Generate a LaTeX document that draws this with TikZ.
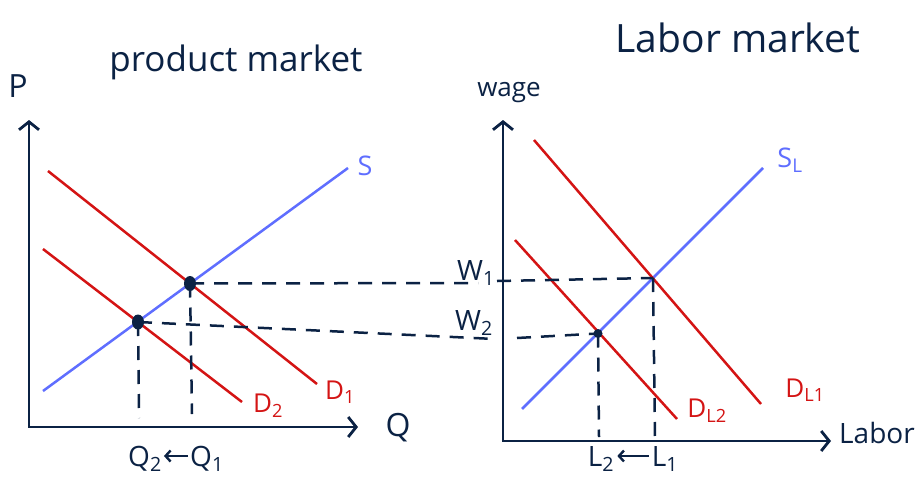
\documentclass[tikz,border=0pt]{standalone}
\usepackage{fontspec}
\setmainfont{Open Sans}
\usetikzlibrary{arrows.meta,shapes.geometric}
\definecolor{ink}{HTML}{0B2244}
\definecolor{dred}{HTML}{D41414}
\definecolor{sblue}{HTML}{5F6EFF}
\begin{document}
\begin{tikzpicture}[x=1pt,y=-1pt,
  axis/.style={draw=ink,line width=2.8pt,line join=miter,
    {Straight Barb[length=8pt,width=20pt]}-{Straight Barb[length=8pt,width=20pt]}},
  demand/.style={draw=dred,line width=2.5pt},
  supply/.style={draw=sblue,line width=2.5pt},
  guide/.style={draw=ink,line width=2.5pt,dash pattern=on 14pt off 10pt},
  eqdot/.style={ellipse,fill=ink,inner sep=0pt,minimum width=12pt,minimum height=15pt},
  smalldot/.style={circle,fill=ink,inner sep=0pt,minimum size=9pt},
  lbl/.style={text=ink,inner sep=0pt},
  rlbl/.style={text=dred,inner sep=0pt,font=\fontsize{26}{26}\selectfont},
  blbl/.style={text=sblue,inner sep=0pt,font=\fontsize{27}{27}\selectfont},
  title/.style={lbl,font=\fontsize{35}{35}\selectfont},
  axlbl/.style={lbl,font=\fontsize{32}{32}\selectfont},
  qlbl/.style={lbl,font=\fontsize{28}{28}\selectfont},
  shiftarrow/.style={draw=ink,line width=2.4pt,-{Straight Barb[length=5pt,width=11pt]}}
]
\fill[white] (0,0) rectangle (917,482);
\useasboundingbox (0,0) rectangle (917,482);

% ---------- product market ----------
\coordinate (PO) at (29,427);
\coordinate (PY) at (29,120);
\coordinate (PX) at (358,427);
\draw[axis] (PY) -- (PO) -- (PX);
\node[axlbl] (Plab) at (18,86) {P};
\node[axlbl] (Qlab) at (398,428) {Q};
\node[title] (ptitle) at (236,62) {product market};

\coordinate (S0) at (43,391);
\coordinate (S1) at (348,168);
\coordinate (D1a) at (48,171);
\coordinate (D1b) at (317,384);
\coordinate (D2a) at (43,249);
\coordinate (D2b) at (242,402);
\draw[supply] (S0) -- (S1);
\draw[demand] (D1a) -- (D1b);
\draw[demand] (D2a) -- (D2b);
\node[blbl] (Slab) at (365,166) {S};
\node[rlbl] (D1lab) at (340,392) {D\textsubscript{1}};
\node[rlbl] (D2lab) at (268,406) {D\textsubscript{2}};

\coordinate (Q1b) at (192,414);
\coordinate (Q2b) at (139,418);
\node[qlbl] (Q2) at (145,459) {Q\textsubscript{2}};
\node[qlbl] (Q1) at (207,459) {Q\textsubscript{1}};
\path (Q1.west) ++(-2,-3) coordinate (qa) (Q2.east) ++(2,-3) coordinate (qb);
\draw[shiftarrow] (qa) -- (qb);

% ---------- labor market ----------
\coordinate (WO) at (503,441);
\coordinate (WY) at (503,120);
\coordinate (WX) at (831,441);
\draw[axis] (WY) -- (WO) -- (WX);
\node[axlbl,font=\fontsize{26}{26}\selectfont] (wage) at (509,93) {wage};
\node[axlbl,font=\fontsize{28}{28}\selectfont] (Lablab) at (877,433) {Labor};
\node[title,font=\fontsize{39}{39}\selectfont] (ltitle) at (738,38) {Labor market};

\coordinate (SL0) at (522,409);
\coordinate (SL1) at (763,168);
\coordinate (DL1a) at (534,140);
\coordinate (DL1b) at (761,404);
\coordinate (DL2a) at (515,240);
\coordinate (DL2b) at (677,419);
\draw[supply] (SL0) -- (SL1);
\draw[demand] (DL1a) -- (DL1b);
\draw[demand] (DL2a) -- (DL2b);
\node[blbl] (SLlab) at (790,160) {S\textsubscript{L}};
\node[rlbl] (DL1lab) at (805,390) {D\textsubscript{L1}};
\node[rlbl] (DL2lab) at (707,411) {D\textsubscript{L2}};

\coordinate (F1) at (653,278);
\node[smalldot] (F2) at (598,333.5) {};
\coordinate (L1b) at (655,437);
\coordinate (L2b) at (599,437);
\node[qlbl] (L2) at (601,459) {L\textsubscript{2}};
\node[qlbl] (L1) at (665,459) {L\textsubscript{1}};
\path (L1.west) ++(-3,-3) coordinate (la) (L2.east) ++(3,-3) coordinate (lb);
\draw[shiftarrow] (la) -- (lb);

\node[qlbl] (W1) at (476,273) {W\textsubscript{1}};
\node[qlbl] (W2) at (474,323) {W\textsubscript{2}};

% ---------- equilibrium points and guides ----------
\node[eqdot] (E1) at (190,283.5) {};
\node[eqdot] (E2) at (138,322) {};

\coordinate (W1end) at (478,283);
\coordinate (W1tick) at (497,281);
\coordinate (W2end) at (495,339);
\coordinate (W2start) at (517,338);

\draw[guide] (E1.center) -- (Q1b);
\draw[guide] (E2.center) -- (Q2b);
\draw[guide] (E1.center) -- (W1end);
\draw[guide] (W1tick) -- (F1);
\draw[guide] (F1) -- (L1b);
\draw[guide] (E2.center) -- (W2end);
\draw[guide] (W2start) -- (F2.center);
\draw[guide] (F2.center) -- (L2b);
\end{tikzpicture}
\end{document}
